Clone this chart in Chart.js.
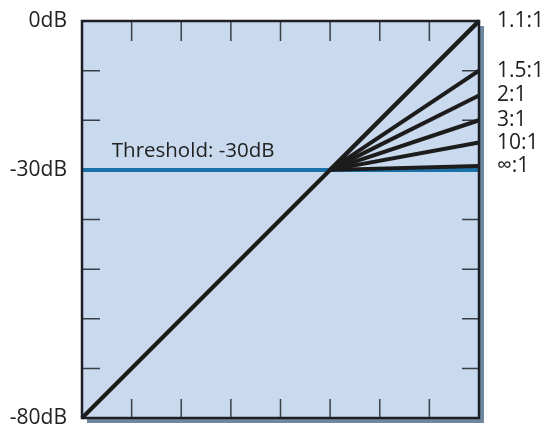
<!DOCTYPE html>
<html>
<head>
<meta charset="utf-8">
<script src="https://cdn.jsdelivr.net/npm/chart.js@4.4.1/dist/chart.umd.min.js"></script>
<style>
  body { margin: 0; background: #fff; }
</style>
</head>
<body>
<canvas id="myChart" width="548" height="432"></canvas>
<script>
// input / output levels in dB
const threshold = -30;
const axisMin = -80;
const axisMax = 0;
const gridSteps = [-70, -60, -50, -40, -30, -20, -10];
const leftLabels = [0, -30, -80];

// ratio lines: output level reached at 0dB input
const ratioNames = ['1.1:1', '1.5:1', '2:1', '3:1', '10:1', '\u221E:1'];
const ratioEnds = [0, -10, -15, -20, -24.5, -29.2];

const font = '"Open Sans", "Noto Sans", sans-serif';

const chartBack = {
    id: 'chartBack',
    beforeDraw(chart) {
        const { ctx, chartArea: a } = chart;
        ctx.save();
        ctx.fillStyle = '#6f879f';
        ctx.fillRect(a.left + 5, a.top + 5, a.right - a.left, a.bottom - a.top);
        ctx.fillStyle = '#c9d9ee';
        ctx.fillRect(a.left, a.top, a.right - a.left, a.bottom - a.top);
        ctx.restore();
    },
    beforeDatasetsDraw(chart) {
        const { ctx, chartArea: a, scales } = chart;
        ctx.save();
        ctx.strokeStyle = '#3a3f48';
        ctx.lineWidth = 1.5;
        ctx.beginPath();
        gridSteps.forEach(v => {
            const x = scales.x.getPixelForValue(v);
            ctx.moveTo(x, a.top); ctx.lineTo(x, a.top + 20);
            ctx.moveTo(x, a.bottom); ctx.lineTo(x, a.bottom - 19);
            const y = scales.y.getPixelForValue(v);
            ctx.moveTo(a.left, y); ctx.lineTo(a.left + 18, y);
            ctx.moveTo(a.right, y); ctx.lineTo(a.right - 17, y);
        });
        ctx.stroke();
        ctx.restore();
    },
    afterDatasetsDraw(chart) {
        const { ctx, chartArea: a, scales } = chart;
        ctx.save();
        ctx.strokeStyle = '#1c1f26';
        ctx.lineWidth = 2.5;
        ctx.strokeRect(a.left, a.top, a.right - a.left, a.bottom - a.top);
        ctx.fillStyle = '#222';
        ctx.font = '20.5px ' + font;
        ctx.textAlign = 'left';
        ctx.textBaseline = 'alphabetic';
        ctx.fillText('Threshold: ' + threshold + 'dB',
            scales.x.getPixelForValue(-74), scales.y.getPixelForValue(threshold) - 13);
        ctx.restore();
    }
};

const datasets = [
    {
        data: [{ x: axisMin, y: threshold }, { x: axisMax, y: threshold }],
        borderColor: '#1a72a8',
        borderWidth: 4,
        order: 3
    },
    {
        data: [{ x: axisMin, y: axisMin }, { x: axisMax, y: axisMax }],
        borderColor: '#1c1c1c',
        borderWidth: 4,
        order: 1
    }
];
ratioEnds.forEach((end, i) => {
    datasets.push({
        data: [{ x: threshold, y: threshold }, { x: axisMax, y: end }],
        borderColor: '#1c1c1c',
        borderWidth: 4,
        order: 2
    });
});
datasets.forEach(d => {
    d.showLine = true;
    d.pointRadius = 0;
    d.fill = false;
    d.clip = false;
});

function noVertPadding(scale) {
    scale.paddingTop = 0;
    scale.paddingBottom = 0;
}

new Chart(document.getElementById('myChart'), {
    type: 'scatter',
    data: { datasets: datasets },
    options: {
        responsive: false,
        animation: false,
        layout: { padding: { top: 21, bottom: 14, left: 0, right: 0 } },
        plugins: { legend: { display: false }, tooltip: { enabled: false } },
        scales: {
            x: {
                type: 'linear', min: axisMin, max: axisMax, display: false
            },
            y: {
                type: 'linear', min: axisMin, max: axisMax, position: 'left',
                grid: { display: false, drawTicks: false },
                border: { display: false },
                afterFit(scale) { scale.width = 82; noVertPadding(scale); },
                afterBuildTicks(scale) { scale.ticks = leftLabels.map(v => ({ value: v })); },
                ticks: {
                    autoSkip: false,
                    padding: 15,
                    color: '#222',
                    font: { family: font, size: 21 },
                    callback: v => v + 'dB'
                }
            },
            yr: {
                type: 'linear', min: axisMin, max: axisMax, position: 'right',
                grid: { display: false, drawTicks: false },
                border: { display: false },
                afterFit(scale) { scale.width = 69; noVertPadding(scale); },
                afterBuildTicks(scale) { scale.ticks = ratioEnds.map(v => ({ value: v })); },
                ticks: {
                    autoSkip: false,
                    padding: 18,
                    color: '#222',
                    font: { family: font, size: 21 },
                    callback: (v, i) => ratioNames[i]
                }
            }
        }
    },
    plugins: [chartBack]
});
</script>
</body>
</html>
